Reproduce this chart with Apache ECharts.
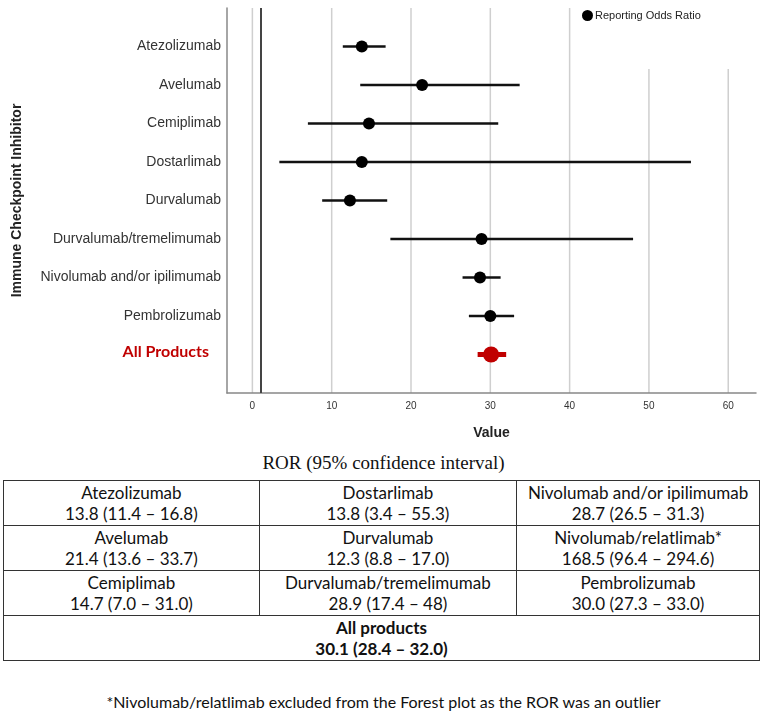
<!DOCTYPE html>
<html>
<head>
<meta charset="utf-8">
<script src="https://cdn.jsdelivr.net/npm/echarts@6/dist/echarts.min.js"></script>
<style>
  html, body { margin: 0; padding: 0; background: #fff; }
  #wrap { position: relative; width: 767px; height: 721px; }
  #myChart { position: absolute; left: 0; top: 0; width: 767px; height: 445px; }
  #rorTitle {
    position: absolute; left: 0; top: 452px; width: 767px; text-align: center;
    font-family: "Liberation Serif", "DejaVu Serif", serif; font-size: 19px; color: #111;
  }
  #rorTable {
    position: absolute; left: 3px; top: 480px; width: 757px;
    border-collapse: collapse; font-family: Lato, "Liberation Sans", sans-serif;
    font-size: 17px; color: #111;
  }
  #rorTable td {
    border: 1.5px solid #333; text-align: center; padding: 1px 0 1px 0; line-height: 21px;
  }
  #rorTable td.all { font-weight: bold; }
  #footnote {
    position: absolute; left: 0; top: 692px; width: 767px; text-align: center;
    font-family: Lato, "Liberation Sans", sans-serif; font-size: 16px; color: #111;
  }
</style>
</head>
<body>
<div id="wrap">
  <div id="myChart"></div>
  <div id="rorTitle">ROR (95% confidence interval)</div>
  <table id="rorTable"></table>
  <div id="footnote">*Nivolumab/relatlimab excluded from the Forest plot as the ROR was an outlier</div>
</div>
<script>
// forest plot rows (top to bottom)
var products = ['Atezolizumab', 'Avelumab', 'Cemiplimab', 'Dostarlimab', 'Durvalumab',
  'Durvalumab/tremelimumab', 'Nivolumab and/or ipilimumab', 'Pembrolizumab', 'All Products'];
var ror    = [13.8, 21.4, 14.7, 13.8, 12.3, 28.9, 28.7, 30.0, 30.1];
var ciLow  = [11.4, 13.6, 7.0, 3.4, 8.8, 17.4, 26.5, 27.3, 28.4];
var ciHigh = [16.8, 33.7, 31.0, 55.3, 17.0, 48, 31.3, 33.0, 32.0];
var xTicks = [0, 10, 20, 30, 40, 50, 60];

// table below the plot (row by row)
var tableNames = [
  ['Atezolizumab', 'Dostarlimab', 'Nivolumab and/or ipilimumab'],
  ['Avelumab', 'Durvalumab', 'Nivolumab/relatlimab*'],
  ['Cemiplimab', 'Durvalumab/tremelimumab', 'Pembrolizumab']
];
var tableValues = [
  ['13.8 (11.4 \u2013 16.8)', '13.8 (3.4 \u2013 55.3)', '28.7 (26.5 \u2013 31.3)'],
  ['21.4 (13.6 \u2013 33.7)', '12.3 (8.8 \u2013 17.0)', '168.5 (96.4 \u2013 294.6)'],
  ['14.7 (7.0 \u2013 31.0)', '28.9 (17.4 \u2013 48)', '30.0 (27.3 \u2013 33.0)']
];
var allName = 'All products';
var allValue = '30.1 (28.4 \u2013 32.0)';

var red = '#c00000';
var last = products.length - 1;

var ciData = products.map(function (p, i) { return [ciLow[i], ciHigh[i], i]; });
var pointData = products.map(function (p, i) {
  if (i === last) {
    return { value: [ror[i], i], symbolSize: 16, itemStyle: { color: red } };
  }
  return [ror[i], i];
});

var option = {
  animation: false,
  grid: { left: 227, right: 11, top: 8, bottom: 52 },
  legend: {
    data: ['Reporting Odds Ratio'],
    left: 580, top: 6,
    icon: 'circle', itemWidth: 11, itemHeight: 11, itemGap: 2,
    backgroundColor: '#fff',
    padding: [4, 40, 48, 2],
    textStyle: { fontFamily: 'Liberation Sans', fontSize: 11, color: '#222', padding: [0, 0, 0, -3] }
  },
  xAxis: {
    type: 'value', min: -3.2, max: 63.5,
    name: 'Value', nameLocation: 'middle', nameGap: 33,
    nameTextStyle: { fontFamily: 'Liberation Sans', fontSize: 14, fontWeight: 'bold', color: '#222' },
    axisLine: { show: true, onZero: false, lineStyle: { color: '#888', width: 1.5 } },
    axisTick: { show: false },
    axisLabel: {
      fontFamily: 'Liberation Sans', fontSize: 10, color: '#333', margin: 8,
      customValues: xTicks
    },
    splitLine: { show: false }
  },
  yAxis: {
    type: 'value', inverse: true, min: -1, max: 9, interval: 1,
    name: 'Immune Checkpoint Inhibitor', nameLocation: 'middle', nameGap: 203,
    nameTextStyle: { fontFamily: 'Liberation Sans', fontSize: 14, fontWeight: 'bold', color: '#222' },
    axisLine: { show: true, onZero: false, lineStyle: { color: '#888', width: 1.5 } },
    axisTick: { show: false },
    splitLine: { show: false },
    axisLabel: {
      fontFamily: 'Liberation Sans', fontSize: 14, color: '#333', margin: 6,
      formatter: function (v) {
        if (v === last) return '{all|' + products[v] + '}';
        return products[v] || '';
      },
      rich: {
        all: { color: red, fontFamily: 'Lato', fontWeight: 'bold', fontSize: 16, padding: [0, 12, 5, 0] }
      }
    }
  },
  series: [
    {
      // vertical grid lines at the tick values
      type: 'custom',
      silent: true,
      z: 0,
      data: xTicks.map(function (t) { return [t]; }),
      encode: { x: 0 },
      renderItem: function (params, api) {
        var top = api.coord([api.value(0), -1]);
        var bot = api.coord([api.value(0), 9]);
        return {
          type: 'line',
          shape: { x1: top[0], y1: top[1], x2: bot[0], y2: bot[1] },
          style: { stroke: '#cfcfcf', lineWidth: 1.5 }
        };
      }
    },
    {
      type: 'custom',
      z: 2,
      data: ciData,
      encode: { x: [0, 1], y: 2 },
      renderItem: function (params, api) {
        var i = api.value(2);
        var a = api.coord([api.value(0), i]);
        var b = api.coord([api.value(1), i]);
        return {
          type: 'line',
          shape: { x1: a[0], y1: a[1], x2: b[0], y2: b[1] },
          style: { stroke: i === last ? red : '#111', lineWidth: i === last ? 5 : 2.5 }
        };
      }
    },
    {
      name: 'Reporting Odds Ratio',
      type: 'scatter',
      z: 3,
      symbol: 'circle',
      symbolSize: 12,
      itemStyle: { color: '#000', opacity: 1 },
      data: pointData,
      markLine: {
        silent: true,
        symbol: 'none',
        label: { show: false },
        lineStyle: { color: '#444', width: 2, type: 'solid' },
        data: [{ xAxis: 1 }]
      }
    }
  ]
};

var myChart = echarts.init(document.getElementById('myChart'));
myChart.setOption(option);

// build the ROR table
var html = '';
tableNames.forEach(function (row, r) {
  html += '<tr>';
  row.forEach(function (name, c) {
    html += '<td style="width:' + (c < 2 ? 257 : 243) + 'px">' + name + '<br>' + tableValues[r][c] + '</td>';
  });
  html += '</tr>';
});
html += '<tr><td class="all" colspan="3">' + allName + '<br>' + allValue + '</td></tr>';
document.getElementById('rorTable').innerHTML = html;
</script>
</body>
</html>
